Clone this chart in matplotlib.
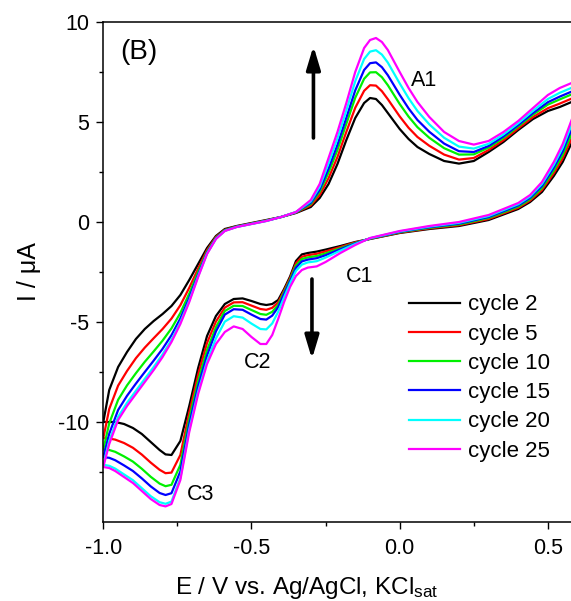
import matplotlib
matplotlib.use("Agg")
import matplotlib.pyplot as plt
import numpy as np

plt.rcParams['font.family'] = ['Liberation Sans', 'DejaVu Sans']
plt.rcParams['mathtext.fontset'] = 'custom'
plt.rcParams['mathtext.rm'] = 'Liberation Sans'
plt.rcParams['mathtext.it'] = 'Liberation Sans:italic'

# ---------------- data ----------------
cycles = ["cycle 2", "cycle 5", "cycle 10", "cycle 15", "cycle 20", "cycle 25"]
colors = ["#000000", "#FF0000", "#00F000", "#0000FF", "#00FFFF", "#FF00FF"]

# cathodic scan (positive -> negative)
E_cath = [0.58, 0.55, 0.52, 0.48, 0.44, 0.40, 0.30, 0.20, 0.10, 0.0, -0.10, -0.15,
          -0.20, -0.25, -0.28, -0.31, -0.33, -0.35, -0.37, -0.39, -0.41, -0.43, -0.45,
          -0.47, -0.50, -0.53, -0.56, -0.59, -0.62, -0.65, -0.68, -0.71, -0.74, -0.77,
          -0.79, -0.81, -0.84, -0.87, -0.90, -0.93, -0.96, -0.98, -1.0]

I_cath_c2 = [3.95, 3.0, 2.3, 1.5, 1.0, 0.65, 0.1, -0.2, -0.35, -0.55, -0.85, -1.0,
             -1.2, -1.38, -1.48, -1.55, -1.62, -1.95, -2.73, -3.35, -3.9, -4.1, -4.15,
             -4.1, -3.95, -3.82, -3.85, -4.1, -4.7, -5.7, -7.3, -9.2, -10.95, -11.65,
             -11.62, -11.4, -11.0, -10.6, -10.3, -10.1, -10.0, -10.0, -10.0]
I_cath_c5 = [4.18, 3.18, 2.44, 1.6, 1.07, 0.71, 0.15, -0.16, -0.32, -0.53, -0.84, -1.02,
             -1.25, -1.47, -1.59, -1.66, -1.74, -2.06, -2.81, -3.43, -4.02, -4.29, -4.39,
             -4.35, -4.18, -4.01, -4.02, -4.28, -4.98, -6.05, -7.63, -9.53, -11.65, -12.53,
             -12.56, -12.39, -12.03, -11.63, -11.29, -11.05, -10.88, -10.83, -10.81]
I_cath_c10 = [4.41, 3.36, 2.58, 1.7, 1.14, 0.77, 0.2, -0.12, -0.29, -0.51, -0.83, -1.05,
              -1.31, -1.57, -1.70, -1.77, -1.85, -2.18, -2.89, -3.51, -4.14, -4.49, -4.64,
              -4.6, -4.4, -4.2, -4.19, -4.45, -5.26, -6.4, -7.95, -9.85, -12.14, -13.14,
              -13.21, -13.08, -12.74, -12.34, -11.98, -11.72, -11.49, -11.4, -11.37]
I_cath_c15 = [4.64, 3.54, 2.72, 1.8, 1.21, 0.83, 0.25, -0.08, -0.26, -0.49, -0.82, -1.07,
              -1.36, -1.66, -1.81, -1.88, -1.97, -2.29, -2.96, -3.59, -4.26, -4.68, -4.88,
              -4.85, -4.63, -4.39, -4.36, -4.63, -5.47, -6.68, -8.21, -10.11, -12.47, -13.56,
              -13.65, -13.55, -13.22, -12.82, -12.45, -12.17, -11.91, -11.79, -11.76]
I_cath_c20 = [4.87, 3.72, 2.86, 1.9, 1.28, 0.89, 0.3, -0.04, -0.23, -0.47, -0.81, -1.10,
              -1.43, -1.78, -1.96, -2.02, -2.13, -2.44, -3.07, -3.76, -4.49, -5.07, -5.37,
              -5.35, -5.08, -4.78, -4.71, -4.98, -5.82, -6.96, -8.47, -10.37, -12.8, -13.98,
              -14.09, -14.01, -13.71, -13.31, -12.91, -12.62, -12.33, -12.19, -12.14]
I_cath_c25 = [5.1, 3.9, 3.0, 2.0, 1.35, 0.95, 0.35, 0.0, -0.2, -0.45, -0.8, -1.15,
              -1.55, -2.0, -2.22, -2.28, -2.4, -2.7, -3.25, -4.0, -4.85, -5.65, -6.1,
              -6.1, -5.75, -5.35, -5.22, -5.5, -6.1, -7.1, -8.6, -10.5, -12.9, -14.1,
              -14.22, -14.15, -13.85, -13.45, -13.05, -12.75, -12.45, -12.3, -12.25]

# anodic scan (negative -> positive)
E_anod = [-1.0, -0.98, -0.95, -0.92, -0.89, -0.86, -0.83, -0.80, -0.77, -0.74, -0.71,
          -0.68, -0.65, -0.62, -0.59, -0.55, -0.50, -0.45, -0.40, -0.35, -0.30, -0.27,
          -0.24, -0.21, -0.18, -0.15, -0.12, -0.10, -0.08, -0.06, -0.04, -0.02, 0.0,
          0.03, 0.06, 0.10, 0.15, 0.20, 0.25, 0.30, 0.35, 0.40, 0.45, 0.50, 0.54, 0.58]

I_anod_c2 = [-10.0, -8.4, -7.25, -6.5, -5.85, -5.35, -4.95, -4.6, -4.2, -3.65, -2.9,
             -2.1, -1.3, -0.7, -0.35, -0.2, -0.05, 0.1, 0.25, 0.45, 0.75, 1.2,
             1.9, 2.9, 4.1, 5.2, 5.95, 6.2, 6.15, 5.85, 5.45, 5.05, 4.65,
             4.15, 3.75, 3.4, 3.05, 2.92, 3.05, 3.5, 4.0, 4.6, 5.15, 5.55, 5.75, 6.0]
I_anod_c5 = [-10.81, -9.35, -8.18, -7.45, -6.81, -6.28, -5.81, -5.35, -4.83, -4.16, -3.29,
             -2.33, -1.41, -0.75, -0.39, -0.22, -0.07, 0.08, 0.25, 0.47, 0.83, 1.35,
             2.19, 3.25, 4.51, 5.71, 6.56, 6.84, 6.82, 6.54, 6.14, 5.71, 5.28,
             4.71, 4.25, 3.81, 3.37, 3.12, 3.2, 3.6, 4.09, 4.68, 5.25, 5.69, 5.92, 6.17]
I_anod_c10 = [-11.37, -10.07, -8.89, -8.17, -7.56, -6.99, -6.47, -5.93, -5.32, -4.55, -3.58,
              -2.50, -1.49, -0.79, -0.41, -0.23, -0.08, 0.07, 0.25, 0.48, 0.90, 1.51,
              2.47, 3.60, 4.91, 6.21, 7.16, 7.48, 7.49, 7.24, 6.84, 6.37, 5.90,
              5.27, 4.74, 4.21, 3.69, 3.37, 3.38, 3.72, 4.2, 4.78, 5.37, 5.87, 6.13, 6.38]
I_anod_c15 = [-11.76, -10.59, -9.40, -8.69, -8.08, -7.50, -6.93, -6.34, -5.66, -4.82, -3.79,
              -2.63, -1.54, -0.82, -0.43, -0.24, -0.09, 0.06, 0.25, 0.49, 0.96, 1.62,
              2.68, 3.86, 5.21, 6.58, 7.6, 7.94, 7.98, 7.74, 7.34, 6.85, 6.36,
              5.68, 5.10, 4.51, 3.92, 3.54, 3.5, 3.8, 4.28, 4.85, 5.45, 5.99, 6.27, 6.52]
I_anod_c20 = [-12.14, -10.94, -9.74, -9.04, -8.44, -7.84, -7.25, -6.62, -5.89, -5.01, -3.93,
              -2.71, -1.58, -0.84, -0.44, -0.25, -0.10, 0.05, 0.25, 0.50, 1.03, 1.76,
              2.94, 4.18, 5.58, 7.04, 8.15, 8.52, 8.59, 8.37, 7.97, 7.45, 6.93,
              6.19, 5.55, 4.88, 4.21, 3.77, 3.67, 3.91, 4.38, 4.94, 5.56, 6.15, 6.46, 6.71]
I_anod_c25 = [-12.25, -11.1, -9.9, -9.2, -8.6, -8.0, -7.4, -6.75, -6.0, -5.1, -4.0,
              -2.75, -1.6, -0.85, -0.45, -0.25, -0.1, 0.05, 0.25, 0.5, 1.1, 1.9,
              3.2, 4.5, 5.95, 7.5, 8.7, 9.1, 9.2, 9.0, 8.6, 8.05, 7.5,
              6.7, 6.0, 5.25, 4.5, 4.05, 3.87, 4.05, 4.5, 5.05, 5.7, 6.35, 6.7, 6.95]

I_cath = [I_cath_c2, I_cath_c5, I_cath_c10, I_cath_c15, I_cath_c20, I_cath_c25]
I_anod = [I_anod_c2, I_anod_c5, I_anod_c10, I_anod_c15, I_anod_c20, I_anod_c25]

x_ticks = [-1.0, -0.5, 0.0, 0.5]
x_ticklabels = ["-1.0", "-0.5", "0.0", "0.5"]
y_ticks = [-10, -5, 0, 5, 10]
y_ticklabels = ["-10", "-5", "0", "5", "10"]

# ---------------- figure ----------------
W, H = 571, 601
fig = plt.figure(figsize=(W / 100, H / 100), dpi=100)
ax_l, ax_r, ax_t, ax_b = 103.3, 571.0, 22.0, 522.0
ax = fig.add_axes([ax_l / W, 1 - ax_b / H, (ax_r - ax_l) / W, (ax_b - ax_t) / H])

for lab, col, ic, ia in zip(cycles, colors, I_cath, I_anod):
    ax.plot(list(E_cath) + list(E_anod), list(ic) + list(ia), color=col, lw=1.6,
            label=lab, solid_joinstyle='round')

ax.set_xlim(-1.0, 0.578)
ax.set_ylim(-15, 10)
ax.spines['right'].set_visible(False)
for s in ['left', 'bottom', 'top']:
    ax.spines[s].set_linewidth(1.1)

ax.set_xticks(x_ticks)
ax.set_xticklabels(x_ticklabels)
ax.set_yticks(y_ticks)
ax.set_yticklabels(y_ticklabels)
ax.set_xticks([-0.75, -0.25, 0.25], minor=True)
ax.set_yticks([-12.5, -7.5, -2.5, 2.5, 7.5], minor=True)
ax.tick_params(which='major', direction='out', length=5.3, width=1.0, labelsize=15.5, pad=5)
ax.tick_params(which='minor', direction='out', length=3.0, width=1.0)
ax.tick_params(axis='x', which='major', pad=6.5)
ax.tick_params(top=False, right=False, which='both')

ax.set_xlabel("E / V vs. Ag/AgCl, KCl$_{\\mathrm{sat}}$", fontsize=17.5)
ax.xaxis.set_label_coords((307 - ax_l) / (ax_r - ax_l), -(588 - ax_b) / (ax_b - ax_t), transform=ax.transAxes)
ax.xaxis.label.set_va('center')
ax.set_ylabel("I / μA", fontsize=18)
ax.yaxis.set_label_coords(-(ax_l - 41) / (ax_r - ax_l), 0.5)

# annotations
ax.text((139 - ax_l) / (ax_r - ax_l), (ax_b - 52) / (ax_b - ax_t), "(B)", transform=ax.transAxes,
        fontsize=20, ha='center', va='center')
ax.text(0.083, 7.1, "A1", fontsize=15.5, ha='center', va='center')
ax.text(-0.134, -2.75, "C1", fontsize=15.5, ha='center', va='center')
ax.text(-0.478, -7.05, "C2", fontsize=15.5, ha='center', va='center')
ax.text(-0.673, -13.6, "C3", fontsize=15.5, ha='center', va='center')

ax.annotate("", xy=(-0.291, 8.8), xytext=(-0.291, 4.2),
            arrowprops=dict(arrowstyle='-|>,head_width=0.3,head_length=1.0', lw=2.6,
                            color='k', shrinkA=0, shrinkB=0, mutation_scale=14))
ax.annotate("", xy=(-0.296, -6.85), xytext=(-0.296, -2.85),
            arrowprops=dict(arrowstyle='-|>,head_width=0.3,head_length=1.0', lw=2.6,
                            color='k', shrinkA=0, shrinkB=0, mutation_scale=14))

leg = ax.legend(loc='center left', bbox_to_anchor=((409 - ax_l) / (ax_r - ax_l), (ax_b - 378) / (ax_b - ax_t)),
                frameon=False, fontsize=16, handlelength=2.3, handletextpad=0.35,
                labelspacing=0.37, borderpad=0, borderaxespad=0)
for h in leg.get_lines():
    h.set_linewidth(1.6)

fig.savefig("out.png", dpi=100)
